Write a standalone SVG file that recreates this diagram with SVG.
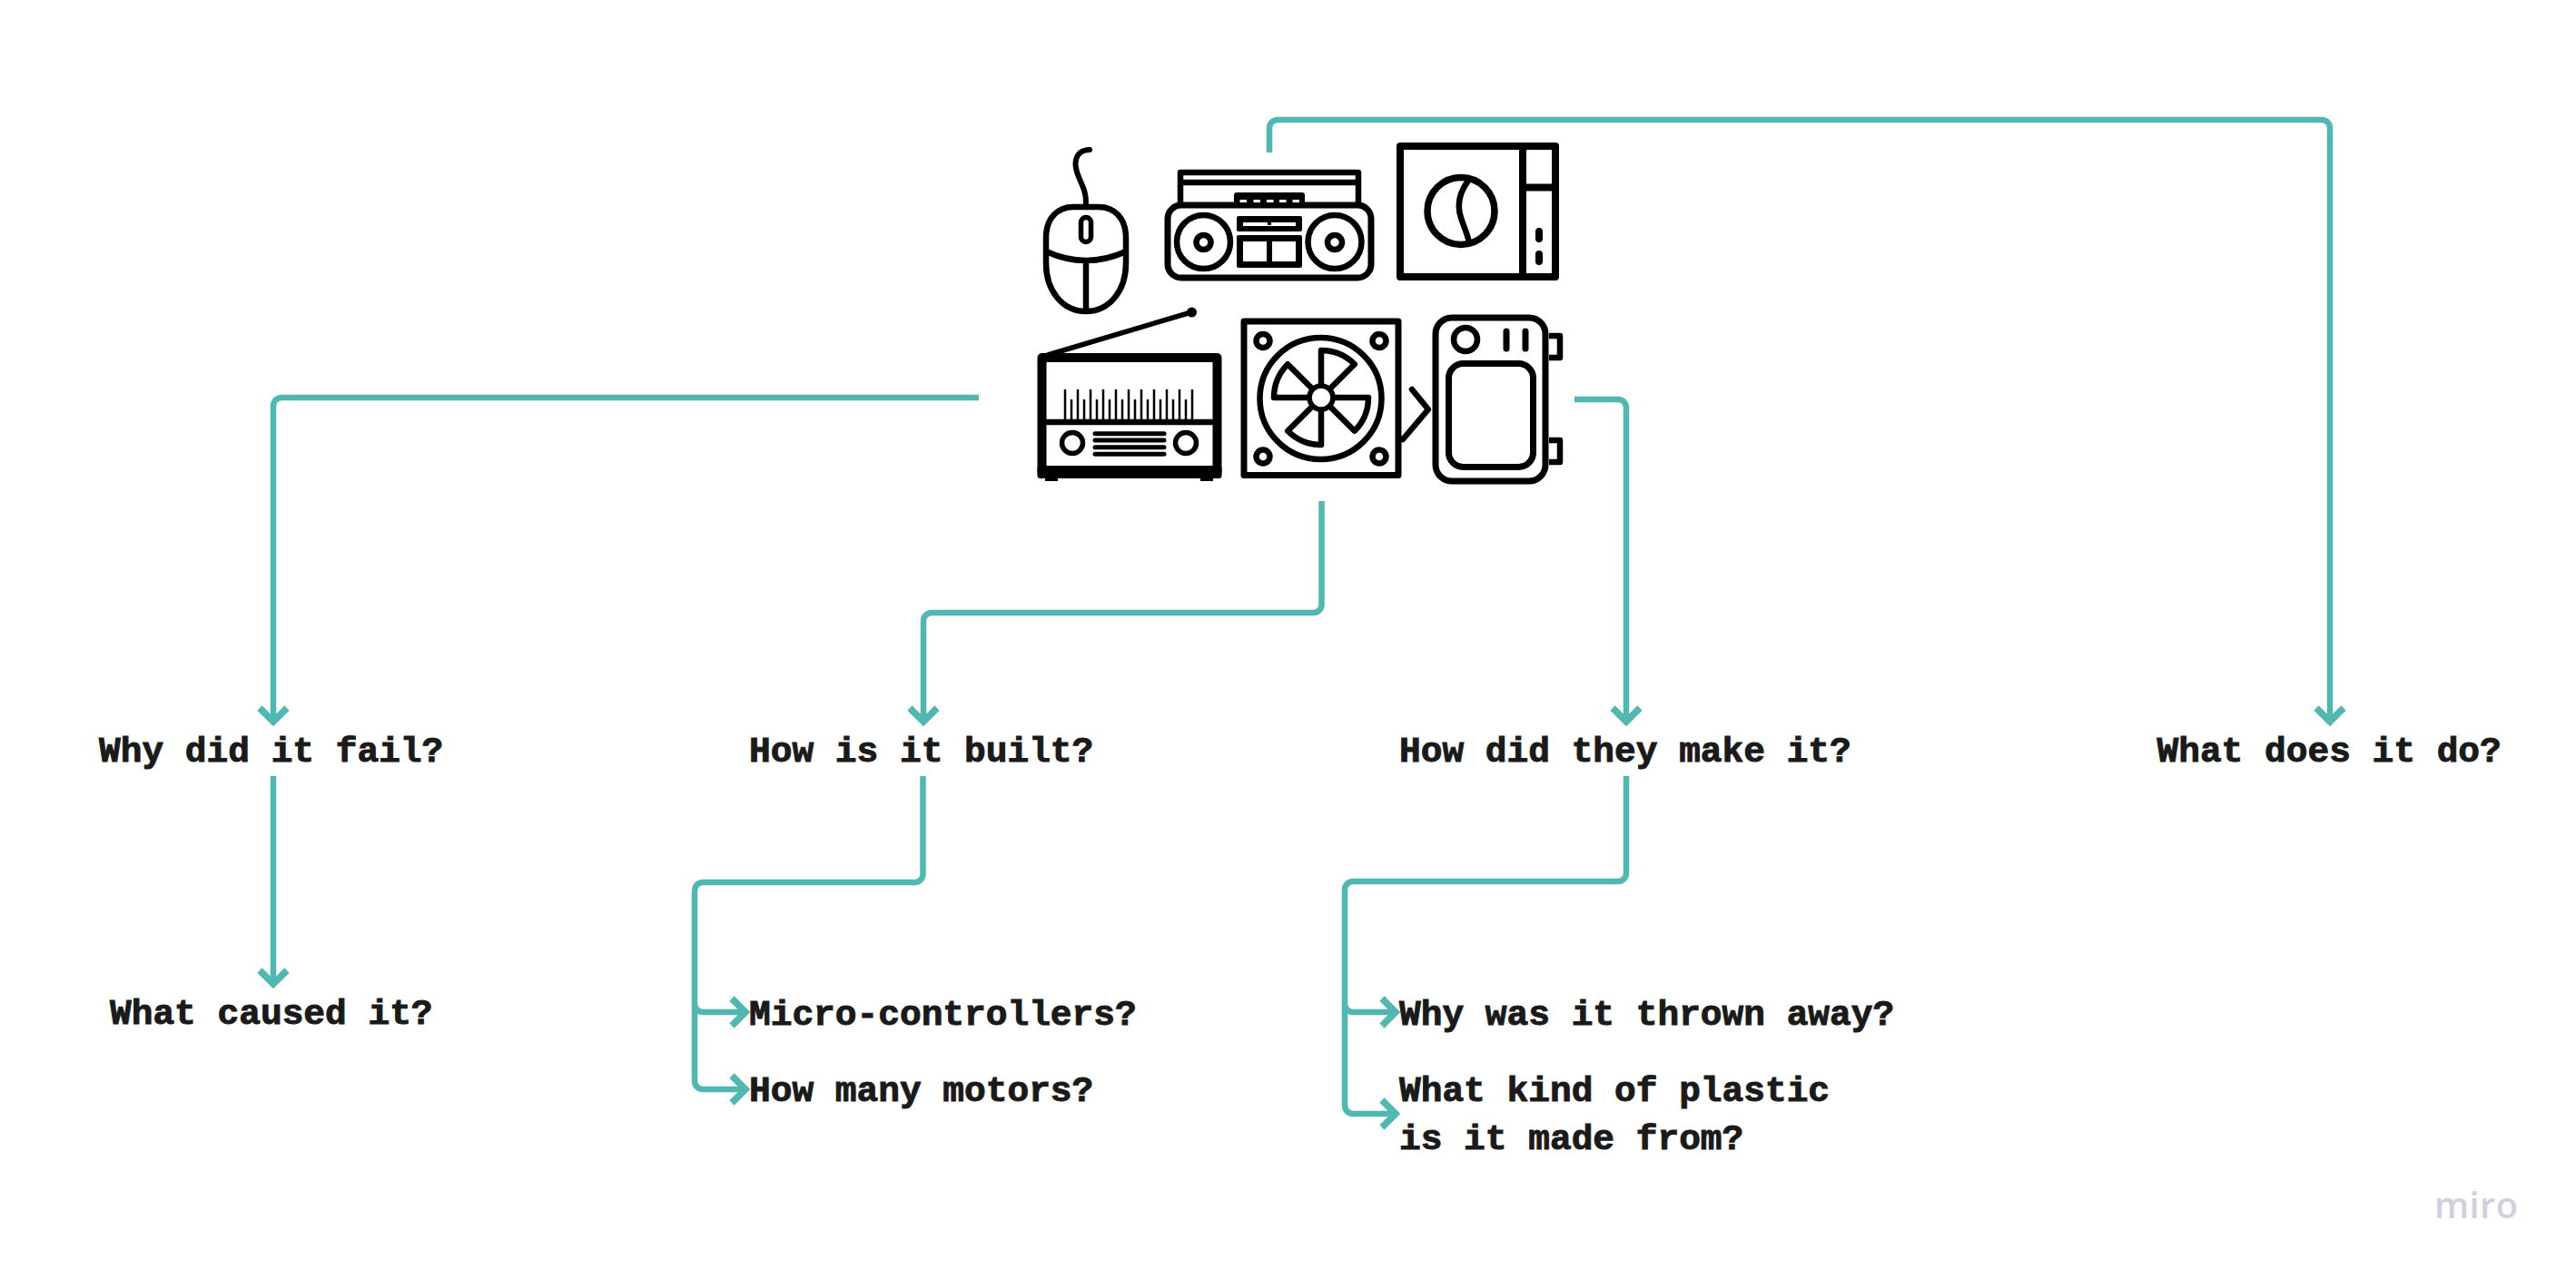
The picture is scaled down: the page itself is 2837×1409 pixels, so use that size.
<svg xmlns="http://www.w3.org/2000/svg" width="2837" height="1409" viewBox="0 0 2837 1409">
<style>
.bg{fill:#ffffff}
.t{font-family:"Liberation Mono","DejaVu Sans Mono",monospace;font-weight:700;font-size:39.5px;fill:#1a1a1a;stroke:#1a1a1a;stroke-width:1px}
.c{fill:none;stroke:#50b8b0;stroke-width:6.5;stroke-linejoin:round}
.a{marker-end:url(#arrow)}
.i{fill:none;stroke:#000;stroke-width:6.5;stroke-linecap:round;stroke-linejoin:round}
.k{fill:#000;stroke:none}
.w{fill:#fff;stroke:none}
.m{font-family:"Open Sans","Noto Sans",sans-serif;font-weight:600;font-size:40px;fill:#d1d1dd;letter-spacing:.4px}
</style>
<defs>
<marker id="arrow" markerUnits="userSpaceOnUse" markerWidth="40" markerHeight="40" refX="20" refY="20" orient="auto">
<path d="M5 5L20 20L5 35" fill="none" stroke="#50b8b0" stroke-width="7.500"/>
</marker>
<path id="blade" d="M0 -13L0 -52A52 52 0 0 1 36.800 -36.800L9 -9Z"/>
</defs>
<rect class="bg" width="2837" height="1409"/>
<g id="connectors">
<path class="c a" d="M1398 168V141a9 9 0 0 1 9-9H2557a9 9 0 0 1 9 9V795"/>
<path class="c a" d="M1078 438H310a9 9 0 0 0-9 9V795"/>
<path class="c a" d="M1455.500 552V666a9 9 0 0 1-9 9H1026a9 9 0 0 0-9 9V795"/>
<path class="c a" d="M1734 440H1782a9 9 0 0 1 9 9V795"/>
<path class="c a" d="M301 855V1084"/>
<path class="c" d="M1016.500 855V963a9 9 0 0 1-9 9H774a9 9 0 0 0-9 9V1106"/>
<path class="c a" d="M765 1106a9 9 0 0 0 9 9H821"/>
<path class="c a" d="M765 1106V1191a9 9 0 0 0 9 9H821"/>
<path class="c" d="M1791 855V962a9 9 0 0 1-9 9H1490a9 9 0 0 0-9 9V1106"/>
<path class="c a" d="M1481 1106a9 9 0 0 0 9 9H1537"/>
<path class="c a" d="M1481 1106V1218a9 9 0 0 0 9 9H1537"/>
</g>
<g id="icon-mouse" class="i">
<path d="M1152 262C1152 240 1165 228 1182 228H1210C1227 228 1240 240 1240 262V290C1240 320 1222 343 1196 343C1170 343 1152 320 1152 290Z"/>
<rect x="1190.500" y="239.500" width="11" height="27" rx="5.500" stroke-width="5.500"/>
<path d="M1152 277Q1196 297 1240 277M1196 287V343" stroke-linecap="butt"/>
<path d="M1196 225C1197 205 1184 195 1184.500 180C1185 170 1191 165 1200 165" stroke-width="6"/>
</g>
<g id="icon-boombox" class="i">
<rect x="1286" y="226" width="224" height="80" rx="15" stroke-width="7"/>
<path d="M1300 226V190H1496V226M1300 201H1496" stroke-linecap="butt"/>
<rect class="k" x="1359" y="212" width="78" height="14" rx="3"/>
<rect class="w" x="1365.500" y="220" width="7.500" height="3"/><rect class="w" x="1380.500" y="220" width="7.500" height="3"/><rect class="w" x="1395" y="220" width="7.500" height="3"/><rect class="w" x="1409" y="220" width="7.500" height="3"/><rect class="w" x="1423.500" y="220" width="7.500" height="3"/>
<circle cx="1325.500" cy="266.500" r="29.500"/><circle cx="1325.500" cy="267" r="8"/>
<circle cx="1470" cy="266.500" r="29.500"/><circle cx="1470" cy="267" r="8"/>
<rect class="k" x="1362" y="238" width="72" height="17" rx="2"/>
<rect class="w" x="1369" y="245" width="58" height="4"/>
<rect class="k" x="1396" y="244" width="4" height="4"/>
<rect class="k" x="1362" y="259" width="72" height="36" rx="2"/>
<rect class="w" x="1369" y="266" width="26" height="22"/><rect class="w" x="1401" y="266" width="26" height="22"/>
</g>
<g id="icon-coffee" class="i">
<rect x="1542" y="161" width="171" height="144" stroke-width="8"/>
<path d="M1677 161V305M1677 206.500H1713" stroke-width="8" stroke-linecap="butt"/>
<path d="M1695 255V263M1695 280V288" stroke-width="8"/>
<circle cx="1609" cy="232.500" r="37" stroke-width="7.500"/>
<path d="M1617 199C1605 215 1605 228 1609 240C1613 252 1617 260 1618 268" stroke-linecap="butt"/>
</g>
<g id="icon-radio" class="i">
<path d="M1154 391L1312 344" stroke-width="5.500"/>
<circle class="k" cx="1312.500" cy="344" r="5.500"/>
<rect x="1147.500" y="394" width="193" height="126" stroke-width="10"/>
<rect class="k" x="1142.500" y="513" width="203" height="14" rx="3"/>
<rect class="k" x="1151" y="525" width="14" height="5"/><rect class="k" x="1322" y="525" width="14" height="5"/>
<path d="M1147 465H1341" stroke-linecap="butt"/>
<path d="M1173 429V462M1187 429V462M1201 429V462M1215 429V462M1229 429V462M1243 429V462M1257 429V462M1271 429V462M1285 429V462M1299 429V462M1313 429V462M1180 440V462M1194 440V462M1208 440V462M1222 440V462M1236 440V462M1250 440V462M1264 440V462M1278 440V462M1292 440V462M1306 440V462" stroke-width="2.500" stroke-linecap="butt"/>
<circle cx="1181" cy="488" r="11.500" stroke-width="5.500"/><circle cx="1306" cy="488" r="11.500" stroke-width="5.500"/>
<path d="M1206 477.700H1282M1206 485H1282M1206 492.700H1282M1206 500.300H1282" stroke-width="5"/>
</g>
<g id="icon-fan" class="i">
<rect x="1370" y="354" width="170" height="169.500" stroke-width="7"/>
<circle cx="1454.500" cy="439" r="67"/>
<circle cx="1391" cy="375.500" r="7.500"/><circle cx="1519" cy="375.500" r="7.500"/><circle cx="1391" cy="503" r="7.500"/><circle cx="1519" cy="503" r="7.500"/>
<g transform="translate(1455 438)"><use href="#blade"/><use href="#blade" transform="rotate(90)"/><use href="#blade" transform="rotate(180)"/><use href="#blade" transform="rotate(270)"/></g>
<circle cx="1455" cy="438" r="13" fill="#fff" stroke-width="5.500"/>
</g>
<g id="icon-device" class="i">
<path d="M1545 484L1573 451L1555 429"/>
<rect x="1581" y="350" width="121" height="180" rx="18" fill="#fff" stroke-width="7"/>
<rect x="1595.500" y="400.500" width="93" height="114" rx="16" stroke-width="7"/>
<circle cx="1614" cy="374" r="13"/>
<path d="M1659 365V384M1680 365V384" stroke-width="7"/>
<path d="M1706 370H1718V394H1706M1706 485H1718V509H1706" stroke-linecap="butt"/>
</g>
<g id="q-fail"><text class="t" x="109" y="839">Why did it fail?</text></g>
<g id="q-built"><text class="t" x="825" y="839">How is it built?</text></g>
<g id="q-make"><text class="t" x="1541" y="839">How did they make it?</text></g>
<g id="q-do"><text class="t" x="2375.500" y="839">What does it do?</text></g>
<g id="q-caused"><text class="t" x="121" y="1128">What caused it?</text></g>
<g id="q-micro"><text class="t" x="825" y="1129">Micro-controllers?</text></g>
<g id="q-motors"><text class="t" x="825" y="1213">How many motors?</text></g>
<g id="q-thrown"><text class="t" x="1541" y="1129">Why was it thrown away?</text></g>
<g id="q-plastic"><text class="t" x="1541" y="1213">What kind of plastic</text><text class="t" x="1541" y="1266">is it made from?</text></g>
<text id="watermark" class="m" x="2681" y="1342">miro</text>
</svg>
